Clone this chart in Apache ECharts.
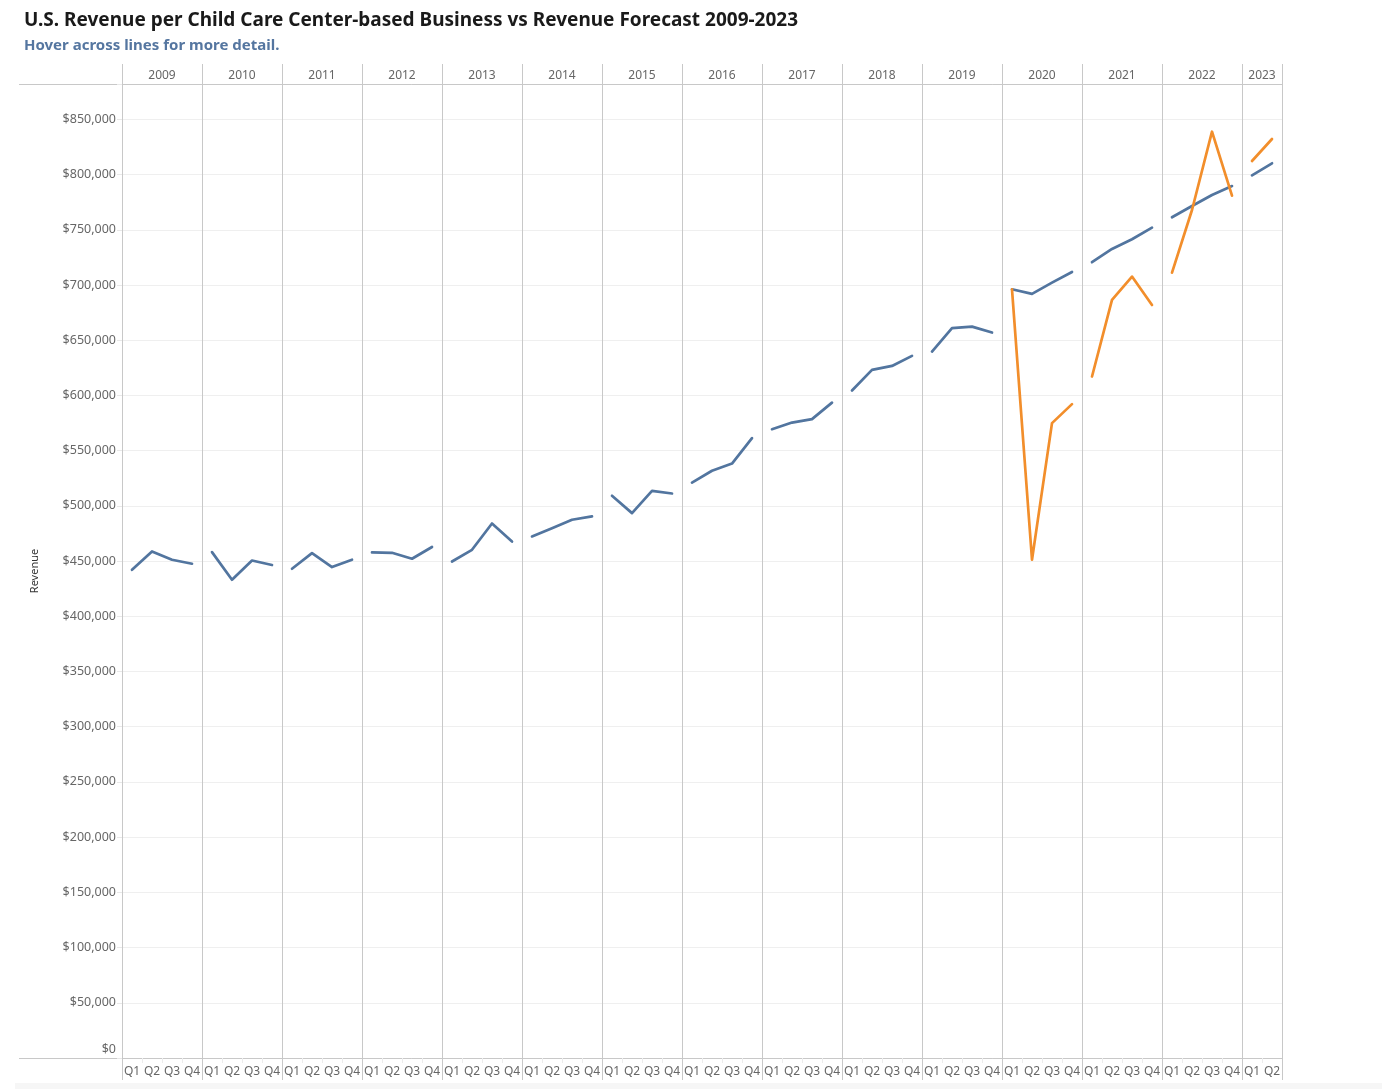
<!DOCTYPE html>
<html><head><meta charset="utf-8">
<script src="https://cdn.jsdelivr.net/npm/echarts@6/dist/echarts.min.js"></script>
<style>html,body{margin:0;padding:0;background:#fff}#c{width:1382px;height:1089px}</style>
</head><body><div id="c"></div>
<script>
// ---- data ----
const years = ['2009','2010','2011','2012','2013','2014','2015','2016','2017','2018','2019','2020','2021','2022','2023'];
const quartersPerYear = [4,4,4,4,4,4,4,4,4,4,4,4,4,4,2];
const quarterNames = ['Q1','Q2','Q3','Q4'];
const yTicks = [0,50000,100000,150000,200000,250000,300000,350000,400000,450000,500000,550000,600000,650000,700000,750000,800000,850000];

// blue line, one value per quarter 2009 Q1 .. 2023 Q2
const revenueForecast = [
  442100, 458700, 451200, 447600,
  458100, 433100, 450500, 446400,
  443000, 457200, 444600, 451200,
  457800, 457500, 452100, 462700,
  449600, 460200, 484000, 467700,
  472300, 479800, 487400, 490400,
  509100, 493400, 513600, 511200,
  521100, 531800, 538300, 561300,
  569400, 575400, 578500, 593500,
  604400, 623100, 626700, 635800,
  639700, 660900, 662300, 656900,
  696100, 691900, 702100, 711800,
  720600, 732600, 741400, 751900,
  761300, 771500, 781500, 789600,
  799300, 810200
];
// orange line (2020 onward)
const revenueActual = [
  null,null,null,null, null,null,null,null, null,null,null,null,
  null,null,null,null, null,null,null,null, null,null,null,null,
  null,null,null,null, null,null,null,null, null,null,null,null,
  null,null,null,null, null,null,null,null,
  696100, 451200, 574900, 592100,
  617100, 686500, 707600, 681900,
  711200, 767900, 838800, 780900,
  812300, 832200
];

// ---- build categories ----
const categories = [];
const yearStart = [];
years.forEach((y, yi) => {
  yearStart.push(categories.length);
  for (let q = 0; q < quartersPerYear[yi]; q++) categories.push(y + ' ' + quarterNames[q]);
});
const yearLabelIdx = {};
years.forEach((y, yi) => {
  const n = quartersPerYear[yi];
  yearLabelIdx[yearStart[yi] + (n === 4 ? 1 : 0)] = y;
});
const isYearBoundary = i => yearStart.indexOf(i) >= 0;

function perYear(values, color, name, z) {
  return years.map((y, yi) => {
    const s = yearStart[yi], e = s + quartersPerYear[yi];
    const data = categories.map((c, i) => (i >= s && i < e) ? values[i] : null);
    if (data.every(v => v === null)) return null;
    return {
      name: name, type: 'line', data: data, xAxisIndex: 0, yAxisIndex: 0,
      showSymbol: false, symbol: 'circle', connectNulls: false, z: z,
      lineStyle: { color: color, width: 2.7, cap: 'round', join: 'round' },
      itemStyle: { color: color },
      emphasis: { disabled: true }
    };
  }).filter(Boolean);
}

const gridColor = '#c8c8c8';
const fmt = v => '$' + v.toLocaleString('en-US');

const chart = echarts.init(document.getElementById('c'), null, { renderer: 'canvas' });
chart.setOption({
  backgroundColor: '#ffffff',
  animation: false,
  textStyle: { fontFamily: 'Noto Sans' },
  title: [
    { text: 'U.S. Revenue per Child Care Center-based Business vs Revenue Forecast 2009-2023',
      left: 24, top: 11, padding: 0,
      textStyle: { fontSize: 19, fontWeight: 'bold', color: '#1a1a1a', fontFamily: 'Noto Sans' } },
    { text: 'Hover across lines for more detail.',
      left: 24, top: 38, padding: 0,
      textStyle: { fontSize: 15, fontWeight: 'bold', color: '#5576a0', fontFamily: 'Noto Sans' } }
  ],
  tooltip: { trigger: 'axis', valueFormatter: v => v == null ? '-' : fmt(v) },
  grid: { left: 122, right: 100, top: 84, bottom: 31, containLabel: false },
  xAxis: [
    { // bottom quarter labels
      type: 'category', data: categories, position: 'bottom', boundaryGap: true,
      axisLine: { show: true, lineStyle: { color: gridColor, width: 1 } },
      axisTick: { show: true, length: 5, lineStyle: { color: '#ececec' } },
      axisLabel: { interval: 0, color: '#666', fontSize: 12, margin: 8,
                   formatter: v => v.slice(5) },
      splitLine: { show: true, interval: (i) => isYearBoundary(i),
                   lineStyle: { color: gridColor, width: 1 } }
    },
    { // bottom year separators through the label row
      type: 'category', data: categories, position: 'bottom', boundaryGap: true,
      axisLine: { show: false },
      axisTick: { show: true, length: 22, interval: (i) => isYearBoundary(i),
                  lineStyle: { color: gridColor, width: 1 } },
      axisLabel: { show: false }, splitLine: { show: false }
    },
    { // top year header
      type: 'category', data: categories, position: 'top', boundaryGap: true,
      axisLine: { show: true, lineStyle: { color: gridColor, width: 1 } },
      axisTick: { show: true, length: 20, interval: (i) => isYearBoundary(i),
                  lineStyle: { color: gridColor, width: 1 } },
      axisLabel: { show: true, color: '#666', fontSize: 12, margin: 2,
                   interval: (i) => yearLabelIdx[i] !== undefined,
                   formatter: (v, i) => yearLabelIdx[i] || '',
                   padding: [0, 0, 0, 20] },
      splitLine: { show: false }
    }
  ],
  yAxis: {
    type: 'value', min: 0, max: 882000, interval: 50000,
    name: 'Revenue', nameLocation: 'middle', nameGap: 82, nameRotate: 90,
    nameTextStyle: { color: '#333', fontSize: 11 },
    axisLine: { show: true, lineStyle: { color: gridColor } },
    axisTick: { show: true, length: 5, lineStyle: { color: '#e8e8e8' } },
    axisLabel: { color: '#666', fontSize: 12.5, margin: 6,
                 formatter: v => yTicks.indexOf(v) >= 0 ? (v === 0 ? '{z|' + fmt(v) + '}' : fmt(v)) : '',
                 rich: { z: { color: '#666', fontSize: 12.5, padding: [0, 0, 18, 0] } } },
    splitLine: { show: true, lineStyle: { color: '#efefef', width: 1 } }
  },
  graphic: [
    { type: 'line', shape: { x1: 19, y1: 84.5, x2: 122, y2: 84.5 }, style: { stroke: gridColor, lineWidth: 1 }, silent: true },
    { type: 'line', shape: { x1: 19, y1: 1058.5, x2: 122, y2: 1058.5 }, style: { stroke: gridColor, lineWidth: 1 }, silent: true },
    { type: 'rect', shape: { x: 15, y: 1083, width: 1367, height: 6 }, style: { fill: '#f6f6f6' }, silent: true }
  ],
  series: [].concat(
    perYear(revenueForecast, '#52759f', 'Revenue Forecast', 2),
    perYear(revenueActual, '#f28e2b', 'Revenue', 3)
  )
});
</script>
</body></html>
